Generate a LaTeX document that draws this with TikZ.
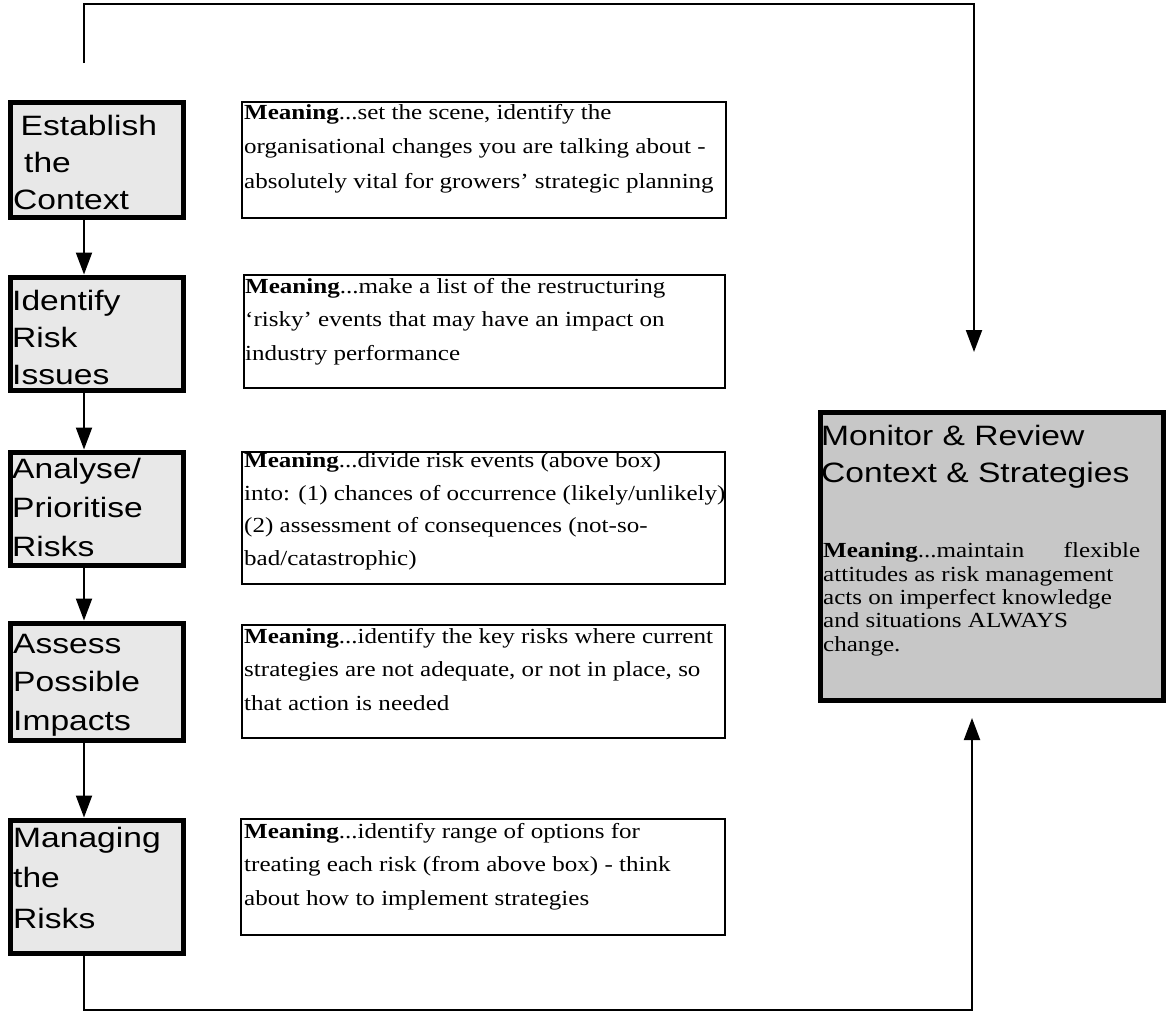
\documentclass[tikz,border=0pt]{standalone}
\usepackage{fontspec}
\setmainfont[FakeStretch=1.165]{Liberation Serif}
\newfontfamily\stagefont[FakeStretch=1.2]{Liberation Sans}
\usetikzlibrary{arrows.meta}

\definecolor{stagefill}{gray}{0.91}
\definecolor{monfill}{gray}{0.78}

\tikzset{
  stagebox/.style={draw=black, line width=5pt, fill=stagefill, anchor=north west,
    minimum width=173pt, inner sep=0pt},
  notebox/.style={draw=black, line width=2pt, fill=white, anchor=north west,
    inner sep=0pt},
  monbox/.style={draw=black, line width=5pt, fill=monfill, anchor=north west,
    inner sep=0pt},
  % text blocks are placed by the baseline of their last line
  stagetext/.style={anchor=base west, align=left, inner sep=0pt,
    font=\stagefont\fontsize{28}{#1}\selectfont},
  notetext/.style={anchor=base west, align=left, inner sep=0pt,
    font=\fontsize{21.5}{#1}\selectfont},
  link/.style={draw=black, line width=2pt},
  flow/.style={link, -{Triangle[width=16pt,length=22pt]}},
}

\begin{document}
\begin{tikzpicture}[x=1pt, y=-1pt]
\useasboundingbox (0,0) rectangle (1166,1013);

% process stages (left column)
\node[stagebox, minimum height=115pt] (s1) at (7.5,99.5) {};
\node[stagebox, minimum height=113pt] (s2) at (7.5,274.5) {};
\node[stagebox, minimum height=113pt] (s3) at (7.5,449.5) {};
\node[stagebox, minimum height=117pt] (s4) at (7.5,620.5) {};
\node[stagebox, minimum height=133pt] (s5) at (7.5,817.5) {};

\node[stagetext=37] (t1) at (13,209) {\hspace*{7.5pt}Establish\\\hspace*{11pt}the\\Context};
\node[stagetext=37] (t2) at (12,384) {Identify\\Risk\\Issues};
\node[stagetext=39] (t3) at (12,556) {Analyse/\\Prioritise\\Risks};
\node[stagetext=38.5] (t4) at (13,730) {Assess\\Possible\\Impacts};
\node[stagetext=40.5] (t5) at (13,928) {Managing\\the\\Risks};

% explanations (middle column)
\node[notebox, minimum width=484pt, minimum height=116pt] (m1) at (241,101) {};
\node[notebox, minimum width=481pt, minimum height=113pt] (m2) at (243,274) {};
\node[notebox, minimum width=483pt, minimum height=132pt] (m3) at (241,451) {};
\node[notebox, minimum width=483pt, minimum height=113pt] (m4) at (241,624) {};
\node[notebox, minimum width=484pt, minimum height=116pt] (m5) at (240,818) {};

\node[notetext=34.5] (n1) at (244,188) {\textbf{Meaning}...set the scene, identify the\\
  organisational changes you are talking about -\\
  absolutely vital for growers’ strategic planning};
\node[notetext=33.5] (n2) at (245,360) {\textbf{Meaning}...make a list of the restructuring\\
  ‘risky’ events that may have an impact on\\
  industry performance};
\node[notetext=32.5] (n3) at (244,565) {\textbf{Meaning}...divide risk events (above box)\\
  into: (1) chances of occurrence (likely/unlikely)\\
  (2) assessment of consequences (not-so-\\
  bad/catastrophic)};
\node[notetext=33.5] (n4) at (244,710) {\textbf{Meaning}...identify the key risks where current\\
  strategies are not adequate, or not in place, so\\
  that action is needed};
\node[notetext=33.5] (n5) at (244,905) {\textbf{Meaning}...identify range of options for\\
  treating each risk (from above box) - think\\
  about how to implement strategies};

% monitoring box (right)
\node[monbox, minimum width=343pt, minimum height=288pt] (mon) at (817.5,409.5) {};
\node[stagetext=37] (mt) at (821,482) {Monitor \& Review\\Context \& Strategies};
\node[notetext=23.3] (mn) at (823,651) {\hbox to 317pt{\textbf{Meaning}...maintain\hfill flexible}\\
  attitudes as risk management\\
  acts on imperfect knowledge\\
  and situations ALWAYS\\
  change.};

% connectors
\coordinate (spine) at (84,0);
\coordinate (tstart) at (84,63);
\coordinate (tcorner) at (974,4);
\coordinate (tin) at (974,352);
\coordinate (bcorner) at (972,1010);
\coordinate (bin) at (972,718);

\draw[flow] (s1.south -| spine) -- (s2.north -| spine);
\draw[flow] (s2.south -| spine) -- (s3.north -| spine);
\draw[flow] (s3.south -| spine) -- (s4.north -| spine);
\draw[flow] (s4.south -| spine) -- (s5.north -| spine);

\draw[flow] (tstart) |- (tcorner) -- (tin);
\draw[flow] (s5.south -| spine) |- (bcorner) -- (bin);
\end{tikzpicture}
\end{document}
